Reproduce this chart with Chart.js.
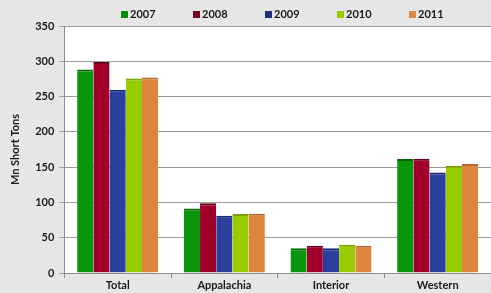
<!DOCTYPE html>
<html>
<head>
<meta charset="utf-8">
<script src="https://cdn.jsdelivr.net/npm/chart.js@4/dist/chart.umd.min.js"></script>
<style>
  html, body { margin: 0; padding: 0; background: #e6e6e6; }
  #wrap { width: 491px; height: 293px; }
</style>
</head>
<body>
<div id="wrap"><canvas id="coalChart"></canvas></div>
<script>
const regions = ["Total", "Appalachia", "Interior", "Western"];
const years = ["2007", "2008", "2009", "2010", "2011"];
const prod2007 = [288.5, 91.5, 35, 161.5];
const prod2008 = [299, 99, 38.5, 162];
const prod2009 = [259.5, 81, 35, 142.5];
const prod2010 = [275.5, 83.5, 40, 152];
const prod2011 = [277, 84, 38.5, 154.5];
const yTicks = [0, 50, 100, 150, 200, 250, 300, 350];

const fills = ["#0a960a", "#a0002a", "#2b3f9c", "#99cc00", "#de8640"];
const edges = ["#066606", "#6e001c", "#1b2a70", "#7aa300", "#b86a2e"];
const keyFills = ["#0a8a0a", "#7a0020", "#1f2f7a", "#99cc00", "#de8640"];

const FONT = "Lato";
const textColor = "#1a1a1a";

// gray page, white plot area
const bgPlugin = {
    id: "bg",
    beforeDraw(chart) {
        const { ctx, chartArea: a } = chart;
        ctx.save();
        ctx.fillStyle = "#e6e6e6";
        ctx.fillRect(0, 0, chart.width, chart.height);
        ctx.fillStyle = "#ffffff";
        ctx.fillRect(a.left, a.top, a.right - a.left, a.bottom - a.top);
        ctx.restore();
    }
};

// legend row across the top band
const keyPlugin = {
    id: "key",
    afterDraw(chart) {
        const ctx = chart.ctx;
        ctx.save();
        ctx.font = "bold 11px " + FONT;
        ctx.textBaseline = "middle";
        years.forEach((yr, i) => {
            const x = 121 + i * 72;
            ctx.fillStyle = keyFills[i];
            ctx.fillRect(x, 11, 7, 7);
            ctx.fillStyle = textColor;
            ctx.fillText(yr, x + 9, 14.5);
        });
        ctx.restore();
    }
};

const series = [prod2007, prod2008, prod2009, prod2010, prod2011];

new Chart(document.getElementById("coalChart"), {
    type: "bar",
    data: {
        labels: regions,
        datasets: series.map((vals, i) => ({
            label: years[i],
            data: vals,
            backgroundColor: fills[i],
            borderColor: edges[i],
            borderWidth: { top: 2, right: 0, left: 0, bottom: 0 },
            borderSkipped: false,
            categoryPercentage: 0.76,
            barPercentage: 1.0
        }))
    },
    options: {
        responsive: true,
        maintainAspectRatio: false,
        animation: false,
        layout: { padding: { top: 26, right: 0, left: 9, bottom: 0 } },
        plugins: {
            legend: { display: false },
            tooltip: { enabled: false }
        },
        scales: {
            x: {
                offset: true,
                grid: {
                    offset: true,
                    drawOnChartArea: false,
                    drawTicks: true,
                    tickLength: 5,
                    color: "#8c8c8c"
                },
                border: { color: "#8c8c8c" },
                ticks: {
                    color: textColor,
                    font: { family: FONT, weight: "bold", size: 11, lineHeight: 1 },
                    padding: 2
                }
            },
            y: {
                min: 0,
                max: 350,
                afterBuildTicks(axis) {
                    axis.ticks = yTicks.map(v => ({ value: v }));
                },
                grid: {
                    color: "#9c9c9c",
                    tickLength: 5
                },
                border: { color: "#8c8c8c" },
                ticks: {
                    color: textColor,
                    font: { family: FONT, weight: "bold", size: 11 },
                    padding: 5
                },
                title: {
                    display: true,
                    text: "Mn Short Tons",
                    color: textColor,
                    font: { family: FONT, weight: "bold", size: 11 },
                    padding: { top: 0, bottom: 8 }
                }
            }
        }
    },
    plugins: [bgPlugin, keyPlugin]
});
</script>
</body>
</html>
